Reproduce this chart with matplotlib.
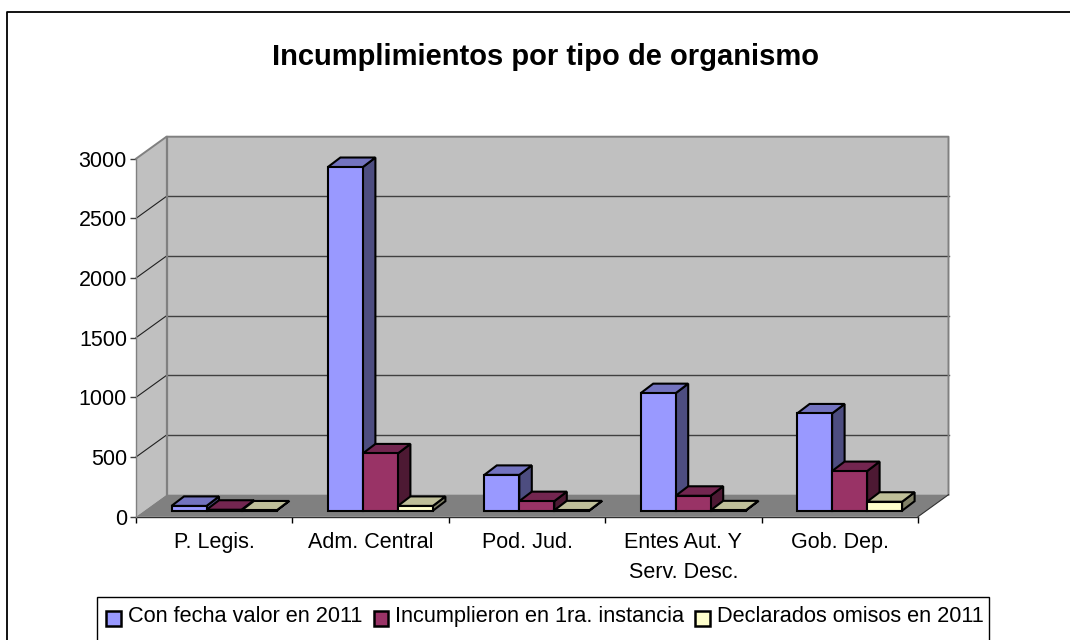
import matplotlib
matplotlib.use("Agg")
import matplotlib.pyplot as plt
from matplotlib.patches import Polygon, Patch, Rectangle
from matplotlib.lines import Line2D

plt.rcParams['font.family'] = ['Liberation Sans', 'DejaVu Sans']

categories = ["P. Legis.", "Adm. Central", "Pod. Jud.", "Entes Aut. Y\nServ. Desc.", "Gob. Dep."]
con_fecha = [40, 2880, 300, 985, 815]
incumplieron = [8, 480, 80, 125, 332]
omisos = [2, 40, 3, 3, 75]
series_names = ["Con fecha valor en 2011", "Incumplieron en 1ra. instancia", "Declarados omisos en 2011"]
yticks = [0, 500, 1000, 1500, 2000, 2500, 3000]

W, H = 1070, 640
fig = plt.figure(figsize=(W / 100, H / 100), dpi=100)
fig.patch.set_facecolor("white")

# plot box in pixels, front plane of the fake 3d
left, right, top, bottom = 136, 918, 158.7, 516.7
ax = fig.add_axes([left / W, 1 - bottom / H, (right - left) / W, (bottom - top) / H])
ax.set_xlim(0, len(categories))
ax.set_ylim(0, 3000)
ax.patch.set_visible(False)

# pixel sizes turned into data units
px_x = len(categories) / (right - left)
px_y = 3000 / (bottom - top)
wall_dx, wall_dy = 30.5 * px_x, 22 * px_y
gap_y = 6 * px_y
bar_w = 35 * px_x
bar_off = 35.5 * px_x
depth_x, depth_y = 12.5 * px_x, 9.5 * px_y

n = len(categories)
wall = "#C0C0C0"
grey = "#808080"

def poly(pts, fc, ec="none", lw=0, z=1):
    ax.add_patch(Polygon(pts, closed=True, facecolor=fc, edgecolor=ec, linewidth=lw,
                         zorder=z, clip_on=False, joinstyle="miter"))

def line(xs, ys, c, lw, z=2):
    ax.add_line(Line2D(xs, ys, color=c, linewidth=lw, zorder=z, clip_on=False))

# walls and floor
poly([(0, 0), (wall_dx, wall_dy), (wall_dx, 3000 + wall_dy), (0, 3000)], wall)
poly([(wall_dx, wall_dy), (n + wall_dx, wall_dy), (n + wall_dx, 3000 + wall_dy), (wall_dx, 3000 + wall_dy)], wall)
poly([(0, 0), (n, 0), (n + wall_dx, wall_dy), (wall_dx, wall_dy)], grey)

# gridlines on both walls
for v in yticks[1:-1]:
    line([0, wall_dx], [v, v + wall_dy], "#202020", 0.8)
    line([wall_dx, n + wall_dx], [v + wall_dy, v + wall_dy], "#404040", 1.0)

# wall edges
line([wall_dx, wall_dx], [wall_dy, 3000 + wall_dy], grey, 1.6, 3)
line([0, wall_dx, n + wall_dx, n + wall_dx], [3000, 3000 + wall_dy, 3000 + wall_dy, wall_dy], grey, 1.4, 3)
line([0, 0], [0, 3000], grey, 1.0, 3)
line([n, n + wall_dx], [0, wall_dy], "#303030", 0.8, 3)

# bars: front, side and top faces
all_series = [con_fecha, incumplieron, omisos]
faces = [("#9999FF", "#7373BF", "#4D4D80"),
         ("#993366", "#732650", "#4D1933"),
         ("#FFFFCC", "#BFBF99", "#808066")]
for i in range(n):
    for j, vals in enumerate(all_series):
        x0 = i + bar_off + j * bar_w
        x1 = x0 + bar_w
        y0 = gap_y
        y1 = gap_y + vals[i]
        front, top_c, side = faces[j]
        z = 10 + i * 3 + j * 3
        poly([(x1, y0), (x1 + depth_x, y0 + depth_y), (x1 + depth_x, y1 + depth_y), (x1, y1)],
             side, "black", 1.5, z)
        poly([(x0, y1), (x1, y1), (x1 + depth_x, y1 + depth_y), (x0 + depth_x, y1 + depth_y)],
             top_c, "black", 1.5, z + 1)
        poly([(x0, y0), (x1, y0), (x1, y1), (x0, y1)], front, "black", 1.5, z + 2)

# axes, ticks, labels
for s in ["top", "right", "left"]:
    ax.spines[s].set_visible(False)
ax.spines["bottom"].set_color("#303030")
ax.spines["bottom"].set_linewidth(1.0)
ax.set_yticks(yticks)
ax.set_yticklabels([str(v) for v in yticks], fontsize=15.5, color="black")
ax.tick_params(axis="y", length=4.5, width=1.0, color="#404040", pad=2)
ax.set_xticks(range(n + 1))
ax.set_xticklabels([])
ax.tick_params(axis="x", which="major", length=4.5, width=1.0, color="black")
ax.set_xticks([i + 0.5 for i in range(n)], minor=True)
ax.set_xticklabels(categories, minor=True, fontsize=15.5, linespacing=1.55)
ax.tick_params(axis="x", which="minor", length=0, pad=11)

fig.text(546 / W, 1 - 57 / H, "Incumplimientos por tipo de organismo", fontsize=21, fontweight="bold",
         ha="center", va="center")

# outer chart border, only the part inside the picture
fig.add_artist(Line2D([7 / W, 7 / W, 1], [0, 1 - 11.5 / H, 1 - 11.5 / H], color="black", linewidth=1.3,
                      transform=fig.transFigure))

# legend box runs off the bottom of the picture
fig.add_artist(Rectangle((97 / W, -0.05), (989 - 97) / W, 1 - 597 / H + 0.05, facecolor="white",
                         edgecolor="black", linewidth=1.0, transform=fig.transFigure))
handles = [Patch(facecolor=faces[j][0], edgecolor="black", linewidth=1.8) for j in range(3)]
leg = fig.legend(handles, series_names, ncol=3, frameon=False, fontsize=15.7, loc="center",
                 bbox_to_anchor=(545 / W, 1 - 616.5 / H), handlelength=0.68, handleheight=0.68,
                 handletextpad=0.3, columnspacing=0.52, borderpad=0, borderaxespad=0)
for h in leg.legend_handles:
    h.set_y(h.get_y() - 3)

fig.savefig("out.png", dpi=100)
